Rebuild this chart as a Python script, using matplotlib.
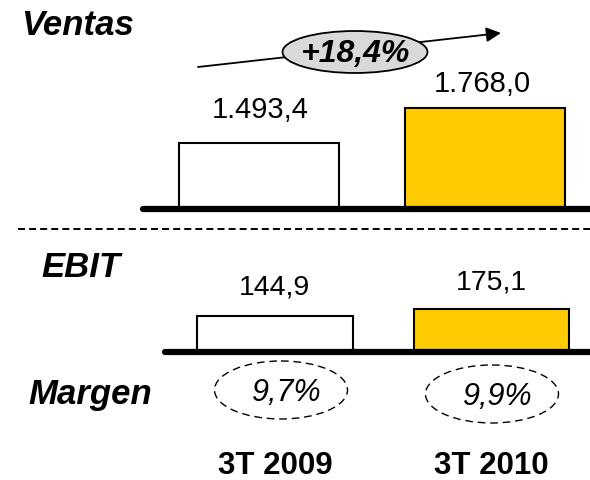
import matplotlib
matplotlib.use('Agg')
import matplotlib.pyplot as plt
import matplotlib.patches as patches

plt.rcParams['font.family'] = ['Liberation Sans', 'DejaVu Sans']

periods = ['3T 2009', '3T 2010']
ventas = [1493.4, 1768.0]
ebit = [144.9, 175.1]
margen = ['9,7%', '9,9%']
crecimiento = '+18,4%'
bar_colors = ['white', '#FFCC00']


def es_num(v):
    # 1493.4 -> "1.493,4"
    s = f"{v:,.1f}"
    return s.replace(',', '_').replace('.', ',').replace('_', '.')


def main():
    W, H = 590, 480
    fig = plt.figure(figsize=(W / 100, H / 100), dpi=100)

    def box(left, right, top, bottom):
        # pixel box -> figure fraction
        return [left / W, 1 - bottom / H, (right - left) / W, (bottom - top) / H]

    # --- Ventas ---
    ax1 = fig.add_axes(box(143, 590, 60, 209))
    x1 = (-0.513, 1.465)
    y1 = (976, 2145)
    ax1.bar(range(len(ventas)), ventas, width=0.71, color=bar_colors,
            edgecolor='black', linewidth=1.5)
    ax1.set_xlim(*x1)
    ax1.set_ylim(*y1)
    ax1.plot(x1, [y1[0], y1[0]], color='black', lw=4.5,
             solid_capstyle='round', clip_on=False, zorder=5)
    ax1.axis('off')
    for i, (v, dx, dy) in enumerate(zip(ventas, [1, -2], [23.5, 17])):
        ax1.annotate(es_num(v), (i, v), xytext=(dx, dy), textcoords='offset points',
                     ha='center', va='center', fontsize=21)

    # --- EBIT ---
    ax2 = fig.add_axes(box(165, 590, 260, 352))
    x2 = (-0.508, 1.455)
    y2 = (0, 372.5)
    ax2.bar(range(len(ebit)), ebit, width=0.72, color=bar_colors,
            edgecolor='black', linewidth=1.5)
    ax2.set_xlim(*x2)
    ax2.set_ylim(*y2)
    ax2.plot(x2, [0, 0], color='black', lw=4.5,
             solid_capstyle='round', clip_on=False, zorder=5)
    for i, (v, dy) in enumerate(zip(ebit, [21, 19])):
        ax2.annotate(es_num(v), (i, v), xytext=(0, dy), textcoords='offset points',
                     ha='center', va='center', fontsize=20.5)
    ax2.set_xticks(range(len(periods)), periods, fontsize=22.5, fontweight='bold')
    ax2.tick_params(axis='x', length=0, pad=71)
    ax2.set_yticks([])
    for s in ax2.spines.values():
        s.set_visible(False)
    ax2.patch.set_visible(False)

    # --- overlay in pixels ---
    ov = fig.add_axes([0, 0, 1, 1], zorder=10)
    ov.set_xlim(0, W)
    ov.set_ylim(H, 0)
    ov.axis('off')

    title_kw = dict(fontsize=25, fontweight='bold', fontstyle='italic',
                    ha='left', va='baseline')
    ov.text(21, 35, 'Ventas', **title_kw)
    ov.text(41, 277, 'EBIT', **title_kw)
    ov.text(28, 404, 'Margen', **title_kw)

    ov.annotate('', xy=(501, 33), xytext=(198, 67),
                arrowprops=dict(arrowstyle='-|>', color='black', lw=1.3,
                                mutation_scale=22, shrinkA=0, shrinkB=0))
    ov.add_patch(patches.Ellipse((355, 52), 145, 42, facecolor='#d9d9d9',
                                 edgecolor='black', lw=1.3, zorder=3))
    ov.text(355, 54, crecimiento, ha='center', va='center', fontsize=23,
            fontweight='bold', fontstyle='italic', zorder=4)

    ov.plot([18, 590], [229, 229], color='black', lw=1.4, dashes=(3.6, 2.1))

    for (cx, cy), txt in zip([(281, 390), (492, 394)], margen):
        ov.add_patch(patches.Ellipse((cx, cy), 133, 58, fill=False,
                                     edgecolor='black', lw=1, ls=(0, (5.5, 3.5))))
        ov.text(cx + 6, cy + 3, txt, ha='center', va='center', fontsize=22,
                fontstyle='italic')

    fig.savefig('out.png', dpi=100)


if __name__ == "__main__":
    main()
